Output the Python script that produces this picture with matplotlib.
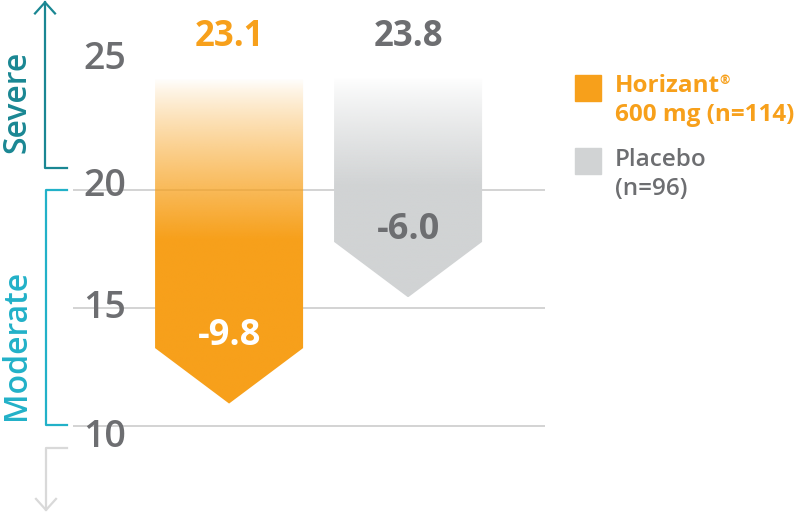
import numpy as np
import matplotlib
matplotlib.use('Agg')
import matplotlib.pyplot as plt
from matplotlib.patches import Polygon, Rectangle
from matplotlib.transforms import blended_transform_factory

# data
groups = ['Horizant® 600 mg (n=114)', 'Placebo (n=96)']
baseline = [23.1, 23.8]
change = [-9.8, -6.0]
yticks = [10, 15, 20, 25]

orange = '#F7A01B'
grey_bar = '#D1D3D4'
grey_txt = '#6D6E71'

plt.rcParams['font.family'] = ['Open Sans', 'DejaVu Sans']

W, H = 802, 514
fig = plt.figure(figsize=(W / 100, H / 100), dpi=100)
# axes spans the gridline extent
ax = fig.add_axes([73 / W, 0, (545 - 73) / W, 1])
ax.set_xlim(-0.872, 1.765)
ax.set_ylim(6.27, 28.05)
ax.axis('off')

for v in [10, 15, 20]:
    ax.axhline(v, color='#CCCCCC', lw=1.2, zorder=1)

bar_w = 0.827
tip = 2.35
top = 24.75
fade = [6.8, 4.6]
colors = [orange, grey_bar]

for i in range(len(groups)):
    end = baseline[i] + change[i]
    x0, x1 = i - bar_w / 2, i + bar_w / 2
    poly = Polygon([(x0, top), (x1, top), (x1, end), (i, end - tip), (x0, end)],
                   closed=True, facecolor='none', edgecolor='none')
    ax.add_patch(poly)
    ys = np.linspace(top, end - tip, 300)
    a = np.clip((top - ys) / fade[i], 0, 1) ** 0.85
    rgb = matplotlib.colors.to_rgb(colors[i])
    img = np.ones((len(ys), 1, 4))
    img[:, 0, :3] = rgb
    img[:, 0, 3] = a
    im = ax.imshow(img, extent=[x0, x1, end - tip, top], aspect='auto',
                   origin='upper', zorder=2, interpolation='bilinear')
    im.set_clip_path(poly)

    lab_col = 'white' if i == 0 else grey_txt
    ax.text(i, end + 0.5, f'{change[i]:.1f}', ha='center', va='center',
            fontsize=26, fontweight='bold', color=lab_col, zorder=3)
    ax.text(i, 26.5, f'{baseline[i]:.1f}', ha='center', va='center',
            fontsize=25, fontweight='bold', color=orange if i == 0 else grey_txt, zorder=3)

# tick labels sit a little off their gridlines in the original
tick_nudge = [-0.45, 0.0, 0.15, 0.55]
ytr = ax.get_yaxis_transform()
for t, d in zip(yticks, tick_nudge):
    ax.text((105 - 73) / 472, t + d, str(t), transform=ytr, ha='center', va='center',
            fontsize=27, fontweight='semibold', color=grey_txt, zorder=3)

# severity brackets on the left
bt = blended_transform_factory(fig.transFigure, ax.transData)
def fx(p):
    return p / W

sev_col = '#1A8793'
mod_col = '#22B1C8'
mild_col = '#D9D9D9'

ax.plot([fx(67), fx(45), fx(45)], [20.93, 20.93, 27.95], color=sev_col, lw=1.6,
        transform=bt, clip_on=False)
ax.plot([fx(35), fx(45), fx(55)], [27.48, 27.95, 27.48], color=sev_col, lw=1.6,
        transform=bt, clip_on=False)
ax.plot([fx(67), fx(46), fx(46), fx(67)], [20.0, 20.0, 10.04, 10.04], color=mod_col,
        lw=1.6, transform=bt, clip_on=False)
ax.plot([fx(67), fx(46), fx(46)], [9.07, 9.07, 6.44], color=mild_col, lw=1.6,
        transform=bt, clip_on=False)
ax.plot([fx(36), fx(46), fx(56)], [6.91, 6.44, 6.91], color=mild_col, lw=1.6,
        transform=bt, clip_on=False)

ax.text(fx(17), 23.73, 'Severe', transform=bt, rotation=90, ha='center', va='center',
        fontsize=23, fontweight='semibold', color=sev_col)
ax.text(fx(17), 13.43, 'Moderate', transform=bt, rotation=90, ha='center', va='center',
        fontsize=23, fontweight='semibold', color=mod_col)

# legend
def fy(p):
    return 1 - p / H

fig.patches.append(Rectangle((fx(575), fy(101)), 26 / W, 26 / H, color=orange,
                             transform=fig.transFigure))
fig.patches.append(Rectangle((fx(575), fy(174)), 26 / W, 26 / H, color=grey_bar,
                             transform=fig.transFigure))
t1 = fig.text(fx(615), fy(86), 'Horizant', ha='left', va='center', fontsize=17.5,
              fontweight='bold', color=orange)
fig.text(fx(615), fy(115), '600 mg (n=114)', ha='left', va='center', fontsize=17.5,
         fontweight='bold', color=orange)
fig.text(fx(615), fy(160), 'Placebo', ha='left', va='center', fontsize=17.5,
         fontweight='semibold', color=grey_txt)
fig.text(fx(615), fy(189), '(n=96)', ha='left', va='center', fontsize=17.5,
         fontweight='semibold', color=grey_txt)

fig.canvas.draw()
bb = t1.get_window_extent()
fig.text(bb.x1 / W - 1 / W, fy(80), '®', ha='left', va='center', fontsize=9,
         fontweight='bold', color=orange)

fig.savefig('out.png', dpi=100)
